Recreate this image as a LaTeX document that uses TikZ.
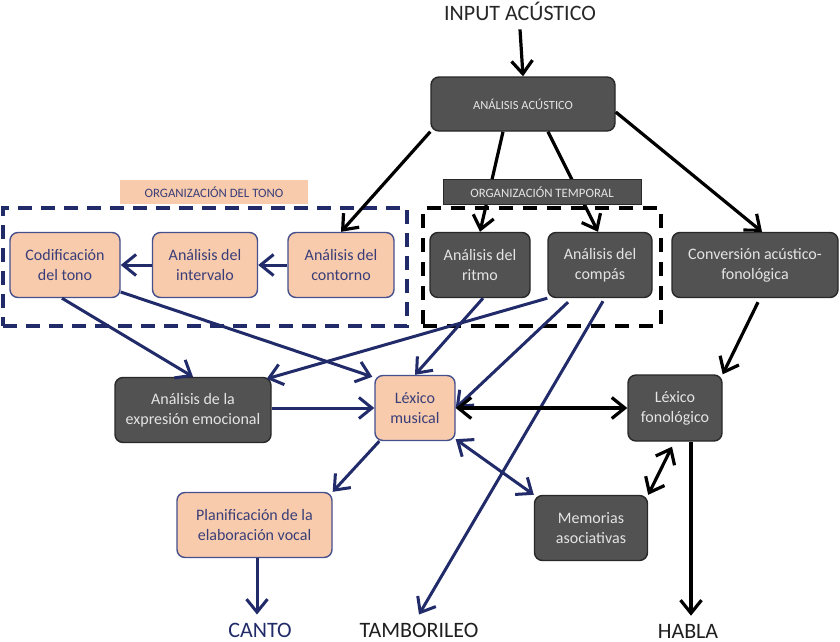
\documentclass[tikz,border=0pt]{standalone}
\usepackage{fontspec}
\setmainfont{Carlito}
\usetikzlibrary{arrows.meta}
\definecolor{navy}{RGB}{33,43,105}
\definecolor{peach}{RGB}{248,203,173}
\definecolor{boxgray}{RGB}{82,82,82}
\definecolor{darkedge}{RGB}{40,40,40}
\definecolor{lighttext}{RGB}{228,228,228}
\definecolor{peachtext}{RGB}{58,62,120}
\definecolor{peachedge}{RGB}{70,80,140}
\begin{document}
\begin{tikzpicture}[x=1pt,y=-1pt,
  >={Straight Barb[length=13pt,width=21pt]},
  peachbox/.style={draw=peachedge, line width=1.4pt, fill=peach, rounded corners=8pt,
    text=peachtext, align=center, inner sep=0pt, font=\fontsize{16}{20}\selectfont},
  graybox/.style={draw=darkedge, line width=1.4pt, fill=boxgray, rounded corners=8pt,
    text=lighttext, align=center, inner sep=0pt, font=\fontsize{16}{20}\selectfont},
  blk/.style={draw=black, line width=3.2pt},
  nvy/.style={draw=navy, line width=3pt},
  outtext/.style={anchor=base, inner sep=8pt, font=\fontsize{22}{24}\selectfont},
  smalltext/.style={inner sep=0pt, font=\fontsize{12.8}{14}\selectfont}
]
\useasboundingbox[fill=white] (0,0) rectangle (840,642);

% groups
\node[draw=navy, line width=4pt, dash pattern=on 14pt off 9pt, minimum width=404pt, minimum height=118pt, inner sep=0pt] (grptono) at (205,267) {};
\node[draw=black, line width=4pt, dash pattern=on 14pt off 10pt, minimum width=238pt, minimum height=118pt, inner sep=0pt] (grptemp) at (542,267) {};

% texts
\node[outtext, text=black!85] (input) at (520,21) {INPUT ACÚSTICO};
\node[outtext, text=navy] (canto) at (260,637) {CANTO};
\node[outtext, text=black!88] (tambor) at (419,637) {TAMBORILEO};
\node[outtext, text=black!88] (habla) at (688,638) {HABLA};

% boxes
\node[graybox, minimum width=184pt, minimum height=54pt, font=\fontsize{12.5}{14}\selectfont] (acus) at (523,104) {ANÁLISIS ACÚSTICO};
\node[peachbox, minimum width=110pt, minimum height=65pt] (codif) at (65,265) {Codificación\\del tono};
\node[peachbox, minimum width=105pt, minimum height=65pt] (interv) at (205,265) {Análisis del\\intervalo};
\node[peachbox, minimum width=106pt, minimum height=65pt] (contorno) at (341,265) {Análisis del\\contorno};
\node[graybox, minimum width=100pt, minimum height=65pt] (ritmo) at (480,265) {Análisis del\\ritmo};
\node[graybox, minimum width=104pt, minimum height=65pt] (compas) at (600,265) {Análisis del\\compás};
\node[graybox, minimum width=166pt, minimum height=65pt] (conv) at (755,265) {Conversión acústico-\\fonológica};
\node[graybox, minimum width=156pt, minimum height=65pt] (expr) at (193,410) {Análisis de la\\expresión emocional};
\node[peachbox, minimum width=80pt, minimum height=65pt] (lexmus) at (415,408) {Léxico\\musical};
\node[graybox, minimum width=94pt, minimum height=66pt] (lexfon) at (675,408) {Léxico\\fonológico};
\node[graybox, minimum width=113pt, minimum height=65pt] (mem) at (591,528) {Memorias\\asociativas};
\node[peachbox, minimum width=155pt, minimum height=65pt] (plan) at (254.5,525) {Planificación de la\\elaboración vocal};

% arrows from acoustic analysis
\draw[blk,->] (input.south) -- (acus.north);
\draw[blk,->] (acus.south west) -- (contorno.north);
\draw[blk,->] ([xshift=-20pt]acus.south) -- (ritmo.north);
\draw[blk,->] ([xshift=25pt]acus.south) -- ([xshift=-2pt]compas.north);
\draw[blk,->] ([yshift=-8pt]acus.east) -- ([xshift=7pt]conv.north);

% group labels (on top of the arrows)
\node[smalltext, fill=peach, minimum width=188pt, minimum height=24pt, text=peachtext] (orgtono) at (214,192) {ORGANIZACIÓN DEL TONO};
\node[smalltext, fill=boxgray, draw=darkedge, line width=1pt, minimum width=198pt, minimum height=25pt, text=lighttext] (orgtemp) at (542,192) {ORGANIZACIÓN TEMPORAL};

% pitch chain
\draw[nvy,->] (interv.west) -- (codif.east);
\draw[nvy,->] (contorno.west) -- (interv.east);

% navy connectors
\draw[nvy,->] ([yshift=-27pt]codif.east) -- ([xshift=-2pt,yshift=-2pt]lexmus.north west);
\draw[nvy,->] ([xshift=-3pt]codif.south) -- (expr.north);
\draw[nvy,->] ([xshift=3pt]ritmo.south) -- (lexmus.north);
\draw[nvy,->] (compas.south west) -- ([xshift=-5pt,yshift=-2pt]expr.north east);
\draw[nvy,->] ([xshift=-32pt,yshift=-4pt]compas.south) -- (lexmus.east);
\draw[nvy,->] ([xshift=3pt,yshift=-3pt]compas.south) -- (tambor.north);
\draw[nvy,->] (expr.east |- lexmus.west) -- (lexmus.west);
\draw[nvy,->] ([xshift=5pt]lexmus.south west) -- (plan.north east);
\draw[nvy,<->] ([yshift=2pt]lexmus.south east) -- (mem.north west);
\draw[nvy,->] ([xshift=2.5pt]plan.south) -- ([xshift=2.5pt]plan.south |- canto.north);

% black connectors
\draw[blk,<->] (lexmus.east) -- (lexfon.west);
\draw[blk,->] ([xshift=3pt,yshift=-4pt]conv.south) -- (lexfon.north east);
\draw[blk,<->] ([xshift=-3pt,yshift=-5pt]lexfon.south) -- (mem.north east);
\draw[blk,->] ([xshift=16pt]lexfon.south) -- ([xshift=16pt]lexfon.south |- habla.north);
\end{tikzpicture}
\end{document}
